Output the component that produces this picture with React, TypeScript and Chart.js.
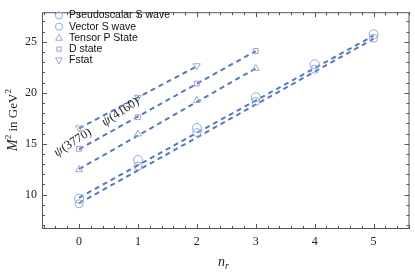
import React, { useEffect, useRef } from 'react';
import { Chart, registerables } from 'chart.js';

Chart.register(...registerables);

// ---------- data ----------
const seriesLabels = ['Pseudoscalar S wave', 'Vector S wave', 'Tensor P State', 'D state', 'Fstat'];
const nSWave = [0, 1, 2, 3, 4, 5];
const nPWave = [0, 1, 2, 3];
const nDWave = [0, 1, 2, 3];
const nFWave = [0, 1, 2];
const pseudoscalarS = [9.1, 12.8, 16.1, 19.15, 22.3, 25.35];
const vectorS = [9.6, 13.4, 16.55, 19.55, 22.8, 25.75];
const tensorP = [12.45, 15.95, 19.25, 22.4];
const dState = [14.5, 17.6, 20.9, 24.1];
const fState = [16.55, 19.55, 22.65];
// fitted straight lines (value at first and last n)
const fitPseudoscalar = [9.15, 25.3];
const fitVector = [9.7, 25.6];
const fitTensor = [12.5, 22.4];
const fitD = [14.45, 24.1];
const fitF = [16.5, 22.6];
const xTickValues = [0, 1, 2, 3, 4, 5];
const yTickValues = [10, 15, 20, 25];
const annotationLabels = ['(3770)', '(4160)'];

const SERIF = "'Liberation Serif', 'DejaVu Serif', serif";
const SANS = "'Liberation Sans', Arial, sans-serif";
const MARK = '#8eaadb';
const MARK_SQ = '#a698cf';
const LINE = '#5479bd';

const markerStyle = [
  { pointStyle: 'circle', radius: 4, color: MARK, rotation: 0 },
  { pointStyle: 'circle', radius: 4.5, color: MARK, rotation: 0 },
  { pointStyle: 'triangle', radius: 4, color: MARK, rotation: 0 },
  { pointStyle: 'rect', radius: 3.4, color: MARK_SQ, rotation: 0 },
  { pointStyle: 'triangle', radius: 4, color: MARK, rotation: 180 },
];

function drawMarker(ctx: CanvasRenderingContext2D, style: string, x: number, y: number, r: number, rot: number, color: string) {
  ctx.save();
  ctx.strokeStyle = color;
  ctx.lineWidth = 1;
  ctx.translate(x, y);
  ctx.rotate((rot * Math.PI) / 180);
  ctx.beginPath();
  if (style === 'circle') {
    ctx.arc(0, 0, r, 0, Math.PI * 2);
  } else if (style === 'triangle') {
    const h = r * 1.0;
    ctx.moveTo(0, -h);
    ctx.lineTo(h * 0.95, h * 0.65);
    ctx.lineTo(-h * 0.95, h * 0.65);
    ctx.closePath();
  } else {
    const s = r * Math.SQRT1_2;
    ctx.rect(-s, -s, 2 * s, 2 * s);
  }
  ctx.stroke();
  ctx.restore();
}

const decorPlugin = {
  id: 'decor',
  afterDraw(chart: any) {
    const { ctx, chartArea: a, scales } = chart;
    const xs = scales.x;
    const ys = scales.y;
    ctx.save();
    // frame
    ctx.strokeStyle = '#555';
    ctx.lineWidth = 1;
    ctx.strokeRect(a.left + 0.5, a.top + 0.5, a.right - a.left - 1, a.bottom - a.top - 1);
    // ticks
    ctx.beginPath();
    for (let k = Math.ceil(xs.min * 5); k <= Math.floor(xs.max * 5); k++) {
      const px = Math.round(xs.getPixelForValue(k / 5)) + 0.5;
      const len = k % 5 === 0 ? 5 : 3;
      ctx.moveTo(px, a.bottom);
      ctx.lineTo(px, a.bottom - len);
      ctx.moveTo(px, a.top);
      ctx.lineTo(px, a.top + len);
    }
    for (let k = Math.ceil(ys.min); k <= Math.floor(ys.max); k++) {
      const py = Math.round(ys.getPixelForValue(k)) + 0.5;
      const len = k % 5 === 0 ? 5 : 3;
      ctx.moveTo(a.left, py);
      ctx.lineTo(a.left + len, py);
      ctx.moveTo(a.right, py);
      ctx.lineTo(a.right - len, py);
    }
    ctx.stroke();

    // legend
    ctx.font = `10.5px ${SANS}`;
    ctx.fillStyle = '#111';
    ctx.textBaseline = 'middle';
    ctx.textAlign = 'left';
    seriesLabels.forEach((lab, i) => {
      const y = 15.5 + i * 11.2;
      const m = markerStyle[i];
      drawMarker(ctx, m.pointStyle, 59, y, m.pointStyle === 'rect' ? 3 : 3.6, m.rotation, m.color);
      ctx.fillText(lab, 69, y);
    });

    // annotations along the lines
    const ann = [
      { x: -0.11, y: 15.1, text: annotationLabels[0] },
      { x: 0.7, y: 18.1, text: annotationLabels[1] },
    ];
    ann.forEach((an) => {
      const px = xs.getPixelForValue(an.x);
      const py = ys.getPixelForValue(an.y);
      ctx.save();
      ctx.translate(px, py);
      ctx.rotate((-33 * Math.PI) / 180);
      ctx.fillStyle = '#222';
      ctx.textBaseline = 'middle';
      ctx.font = `italic 13px ${SERIF}`;
      const w1 = ctx.measureText('ψ').width;
      ctx.font = `12.5px ${SERIF}`;
      const w2 = ctx.measureText(an.text).width;
      const start = -(w1 + w2) / 2;
      ctx.font = `italic 13px ${SERIF}`;
      ctx.fillText('ψ', start, 0);
      ctx.font = `12.5px ${SERIF}`;
      ctx.fillText(an.text, start + w1 + 0.5, 0);
      ctx.restore();
    });

    // y title
    ctx.save();
    ctx.translate(17, 120);
    ctx.rotate(-Math.PI / 2);
    ctx.fillStyle = '#222';
    ctx.textBaseline = 'alphabetic';
    const parts = [
      { t: 'M', f: `italic 14px ${SERIF}`, dy: 0 },
      { t: '2', f: `9px ${SERIF}`, dy: -6 },
      { t: ' in GeV', f: `13px ${SERIF}`, dy: 0 },
      { t: '2', f: `9px ${SERIF}`, dy: -6 },
    ];
    let tot = 0;
    parts.forEach((p) => { ctx.font = p.f; tot += ctx.measureText(p.t).width; });
    let cx = -tot / 2;
    parts.forEach((p) => {
      ctx.font = p.f;
      ctx.fillText(p.t, cx, p.dy);
      cx += ctx.measureText(p.t).width;
    });
    ctx.restore();

    // x title
    ctx.fillStyle = '#222';
    ctx.textBaseline = 'alphabetic';
    ctx.font = `italic 14px ${SERIF}`;
    const wn = ctx.measureText('n').width;
    ctx.fillText('n', 218, 266);
    ctx.font = `italic 10px ${SERIF}`;
    ctx.fillText('r', 218 + wn, 269);
    ctx.restore();
  },
};

function pts(xsArr: number[], ysArr: number[]) {
  return xsArr.map((x, i) => ({ x, y: ysArr[i] }));
}

export default function App() {
  const ref = useRef<HTMLCanvasElement | null>(null);
  useEffect(() => {
    if (!ref.current) return;
    const markerSets = [
      pts(nSWave, pseudoscalarS),
      pts(nSWave, vectorS),
      pts(nPWave, tensorP),
      pts(nDWave, dState),
      pts(nFWave, fState),
    ].map((d, i) => ({
      label: seriesLabels[i],
      data: d,
      showLine: false,
      pointStyle: markerStyle[i].pointStyle,
      pointRadius: markerStyle[i].radius,
      pointRotation: markerStyle[i].rotation,
      pointBorderColor: markerStyle[i].color,
      pointBackgroundColor: 'rgba(0,0,0,0)',
      pointBorderWidth: 1,
    }));
    const fits: [number[], number[]][] = [
      [[nSWave[0], nSWave[nSWave.length - 1]], fitPseudoscalar],
      [[nSWave[0], nSWave[nSWave.length - 1]], fitVector],
      [[nPWave[0], nPWave[nPWave.length - 1]], fitTensor],
      [[nDWave[0], nDWave[nDWave.length - 1]], fitD],
      [[nFWave[0], nFWave[nFWave.length - 1]], fitF],
    ];
    const lineSets = fits.map(([xx, yy], i) => ({
      label: 'fit ' + i,
      data: pts(xx, yy),
      showLine: true,
      borderColor: LINE,
      borderWidth: 2,
      borderDash: [5, 4],
      pointRadius: 0,
      fill: false,
    }));
    const chart = new Chart(ref.current, {
      type: 'scatter',
      data: { datasets: [...markerSets, ...lineSets] as any },
      options: {
        animation: false,
        responsive: false,
        layout: { padding: { top: 2, right: 3, left: 0, bottom: 0 } },
        plugins: { legend: { display: false }, tooltip: { enabled: false } },
        scales: {
          x: {
            type: 'linear',
            min: -0.629,
            max: 5.61,
            grid: { display: false, drawTicks: false },
            border: { display: false },
            ticks: { font: { family: SERIF, size: 12 }, color: '#222', padding: 6 },
            afterBuildTicks: (s: any) => { s.ticks = xTickValues.map((v) => ({ value: v })); },
            afterFit: (s: any) => { s.height = 43; },
          },
          y: {
            type: 'linear',
            min: 6.625,
            max: 27.91,
            grid: { display: false, drawTicks: false },
            border: { display: false },
            ticks: { font: { family: SERIF, size: 12 }, color: '#222', padding: 5 },
            afterBuildTicks: (s: any) => { s.ticks = yTickValues.map((v) => ({ value: v })); },
            afterFit: (s: any) => { s.width = 42; },
          },
        },
      },
      plugins: [decorPlugin],
    });
    return () => chart.destroy();
  }, []);
  return (
    <div style={{ position: 'fixed', left: 0, top: 0, width: 415, height: 272, background: '#fff' }}>
      <canvas ref={ref} width={415} height={272} style={{ width: 415, height: 272, display: 'block' }} />
    </div>
  );
}
